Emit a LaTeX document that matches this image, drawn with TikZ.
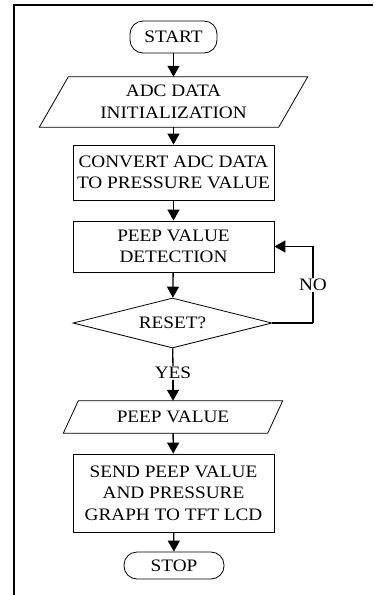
\documentclass[tikz,border=0pt]{standalone}
\usepackage{fontspec}
\setmainfont{Liberation Serif}[FakeStretch=1.1]
\usetikzlibrary{shapes.geometric,arrows.meta}

\begin{document}
\begin{tikzpicture}[x=1pt, y=-1pt,
        font=\fontsize{17.5}{21.5}\selectfont,
        box/.style={draw, line width=0.8pt, align=center, inner sep=0pt},
        term/.style={box, rounded corners=13pt},
        io/.style={align=center, inner sep=0pt},
        dec/.style={box, diamond, aspect=4},
        arr/.style={line width=1.3pt, -{Triangle[length=11pt, width=12pt]}},
        lin/.style={line width=1.3pt}]
    \useasboundingbox (0,0) rectangle (373,595);

    % 外框
    \draw[line width=2.2pt] (14,595) -- (14,5) -- (373,5);

    % 流程节点
    \node[term, minimum width=87, minimum height=32] (start) at (173.5,37) {START};
    \node[io, minimum width=239, minimum height=50] (init) at (173.5,102) {ADC DATA\\INITIALIZATION};
    \node[box, minimum width=201, minimum height=55] (conv) at (173.5,172.5) {CONVERT ADC DATA\\TO PRESSURE VALUE};
    \node[box, minimum width=201, minimum height=51] (detect) at (173.5,246.5) {PEEP VALUE\\DETECTION};
    \node[dec, minimum width=199, minimum height=50] (reset) at (172.5,323) {RESET?};
    \node[inner sep=1pt] (yes) at (173,373) {YES};
    \node[io, minimum width=204, minimum height=32] (peep) at (173,417) {PEEP VALUE};
    \node[box, minimum width=201, minimum height=78] (send) at (173.5,493) {SEND PEEP VALUE\\AND PRESSURE\\GRAPH TO TFT LCD};
    \node[term, minimum width=100, minimum height=27] (stop) at (174,565.5) {STOP};

    % 输入输出框 (平行四边形)
    \draw[line width=0.8pt] ([xshift=14.5]init.north west) -- ([xshift=14.5]init.north east)
        -- ([xshift=-14.5]init.south east) -- ([xshift=-14.5]init.south west) -- cycle;
    \draw[line width=0.8pt] ([xshift=7.5]peep.north west) -- ([xshift=7.5]peep.north east)
        -- ([xshift=-7.5]peep.south east) -- ([xshift=-7.5]peep.south west) -- cycle;

    % 连线
    \draw[arr] (start) -- (init);
    \draw[arr] (init) -- (conv);
    \draw[arr] (conv) -- (detect);
    \draw[arr] (detect) -- (reset);
    \draw[lin] (reset) -- (yes);
    \draw[arr] (yes) -- (peep);
    \draw[arr] (peep) -- (send);
    \draw[arr] (send) -- (stop);

    % NO 回路
    \coordinate (nocorner) at (313,323);
    \draw[lin] (reset.east) -- (nocorner);
    \draw[arr] (nocorner) |- node[pos=0.25, fill=white, inner sep=1pt] (no) {NO} (detect.east);
\end{tikzpicture}
\end{document}
